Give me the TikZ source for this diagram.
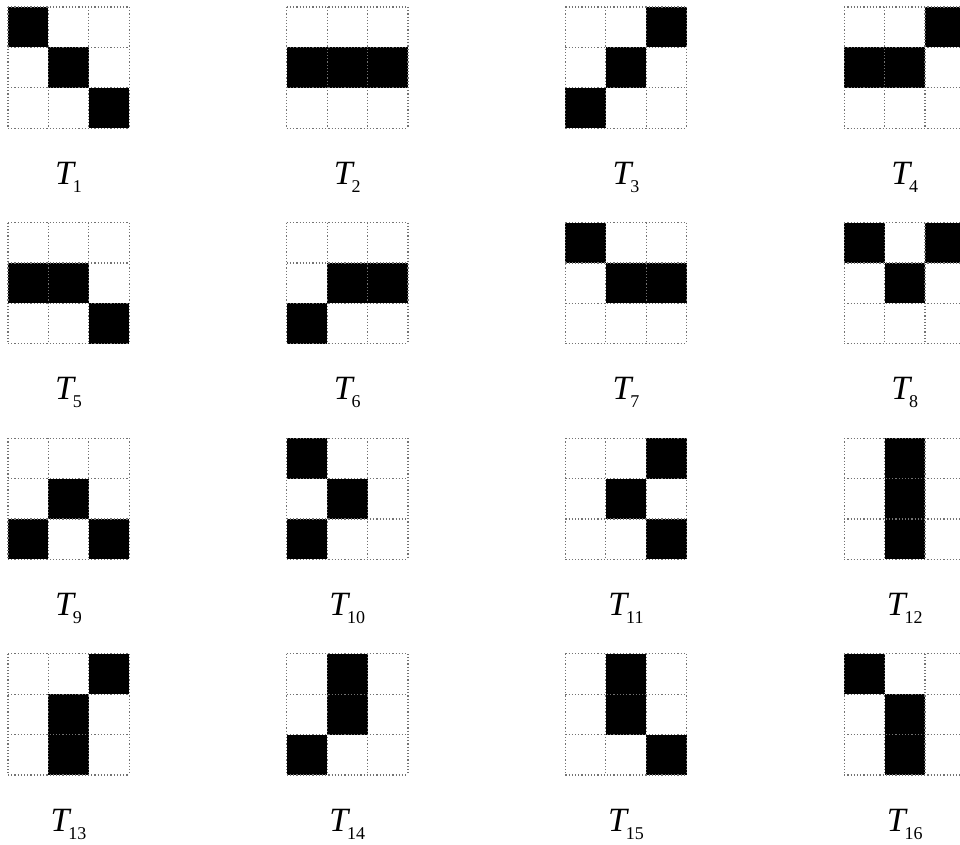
\documentclass[tikz,border=0pt]{standalone}
\usepackage{fontspec}
\setmainfont{Liberation Serif}
\usepackage{tikz}

% italic T with a small upright index set below the baseline
\newcommand{\tmlabel}[1]{\textit{T}\kern-1.6pt\raisebox{-4pt}{\fontsize{9}{9}\selectfont #1}}

\tikzset{
  cellline/.style={black!55, line width=0.6pt, densely dotted},
  tlabel/.style={inner sep=0pt, anchor=base, font=\fontsize{17}{18}\selectfont}
}

\begin{document}
\begin{tikzpicture}[x=0.5pt, y=-0.5pt, line width=0.5pt]
  % units are half points with y running down, so numbers read like pixels.
  % \cs is one cell, \dx/\dy the spacing of the 4x4 array of templates.
  \def\cs{40.4} \def\dx{278.7} \def\dy{215.6}
  \clip (0,0) rectangle (960,845);
  \fill[white] (0,0) rectangle (960,845);

  % template number / black cells as row/column (row 0 on top)
  \foreach \n/\cells in {
      1/{0/0,1/1,2/2},  2/{1/0,1/1,1/2},  3/{0/2,1/1,2/0},  4/{0/2,1/0,1/1},
      5/{1/0,1/1,2/2},  6/{1/1,1/2,2/0},  7/{0/0,1/1,1/2},  8/{0/0,0/2,1/1},
      9/{1/1,2/0,2/2}, 10/{0/0,1/1,2/0}, 11/{0/2,1/1,2/2}, 12/{0/1,1/1,2/1},
     13/{0/2,1/1,2/1}, 14/{0/1,1/1,2/0}, 15/{0/1,1/1,2/2}, 16/{0/0,1/1,2/1}} {
    \pgfmathsetmacro\gx{8+\dx*mod(\n-1,4)}
    \pgfmathsetmacro\gy{7+\dy*div(\n-1,4)}

    % black cells
    \foreach \r/\c in \cells
      \fill (\gx+\c*\cs, \gy+\r*\cs) rectangle ++(\cs,\cs);

    % dotted cell borders on top
    \foreach \k in {0,...,3} {
      \draw[cellline] (\gx+\k*\cs, \gy) -- ++(0, 3*\cs);
      \draw[cellline] (\gx, \gy+\k*\cs) -- ++(3*\cs, 0);
    }

    % name under the grid
    \node[tlabel] (t\n) at (\gx+1.5*\cs, \gy+3*\cs+56) {\tmlabel{\n}};
  }
\end{tikzpicture}
\end{document}
